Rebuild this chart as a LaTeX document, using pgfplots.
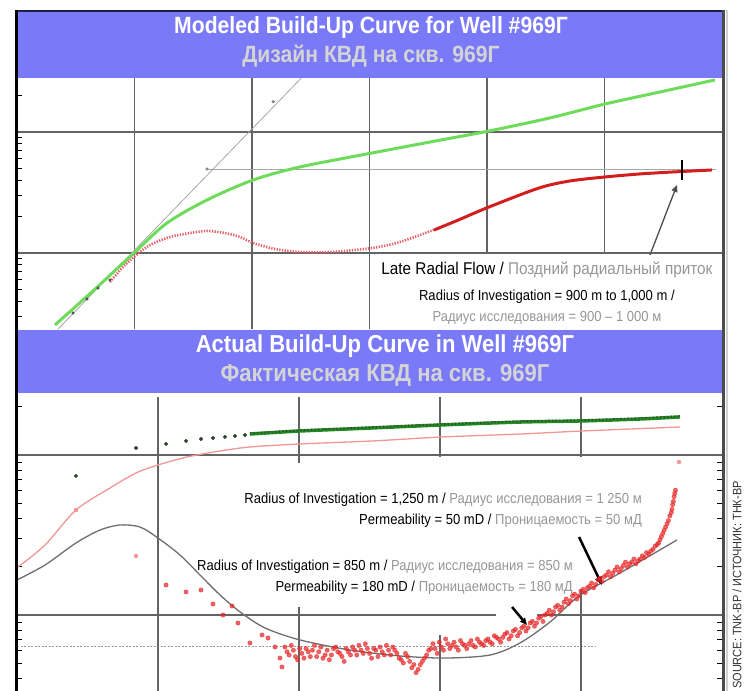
\documentclass[border=0pt]{standalone}
\usepackage{pgfplots}
\pgfplotsset{compat=1.18}
\usepackage{fontspec}
\setmainfont{Liberation Sans}[FakeStretch=0.9]
\usetikzlibrary{arrows.meta}
\definecolor{band}{RGB}{122,122,248}
\definecolor{bandedge}{RGB}{30,30,70}
\definecolor{gridc}{RGB}{100,100,100}
\definecolor{topgreen}{RGB}{110,220,90}
\definecolor{topred}{RGB}{210,30,30}
\definecolor{dotred}{RGB}{228,95,105}
\definecolor{darkgreen}{RGB}{30,140,30}
\definecolor{pinkline}{RGB}{240,150,150}
\definecolor{graycurve}{RGB}{110,110,110}
\definecolor{scatred}{RGB}{232,40,40}
\definecolor{rugray}{RGB}{150,150,150}
\definecolor{titlegray}{RGB}{212,212,212}
\newcommand{\annfont}{\fontsize{14.5bp}{17bp}\selectfont}
\begin{document}
\begin{tikzpicture}[x=1bp,y=1bp]
\useasboundingbox (0,0) rectangle (745,691);
% ================= TOP PANEL =================
\begin{axis}[at={(17bp,362bp)}, anchor=south west, scale only axis,
  width=705bp, height=251bp, xmin=0, xmax=6, ymin=-0.628, ymax=1.446,
  axis line style={draw=none}, xtick=\empty, ytick={0,1}, yticklabels={},
  minor ytick={-0.523,-0.398,-0.301,-0.222,-0.155,-0.097,-0.046,0.301,0.477,0.602,0.699,0.778,0.845,0.903,0.954,1.301},
  ytick pos=left, tick align=inside, major tick length=5bp, minor tick length=5bp,
  tick style={black, line width=1bp}, clip=false]
% grid
\draw[gridc, line width=1.7bp] (axis cs:0,1) -- (axis cs:6,1);
\draw[gridc, line width=1.7bp] (axis cs:0,0) -- (axis cs:6,0);
\draw[gridc, line width=1.7bp] (axis cs:1,-0.628) -- (axis cs:1,1.446);
\draw[gridc, line width=1.7bp] (axis cs:2,-0.628) -- (axis cs:2,1.446);
\draw[gridc, line width=1.7bp] (axis cs:3,-0.628) -- (axis cs:3,1.446);
\draw[gridc, line width=1.7bp] (axis cs:4,0) -- (axis cs:4,1.446);
\draw[gridc, line width=1.7bp] (axis cs:5,0) -- (axis cs:5,1.446);
% reference lines
\addplot[gray!70, line width=0.8bp] coordinates {(1.617,0.694) (5.95,0.694)};
\addplot[gray!70, line width=0.8bp] coordinates {(0.35,-0.628) (2.42,1.446)};
\addplot[only marks, mark=*, mark size=1.4bp, gray] coordinates {(1.617,0.694) (2.18,1.25)};
% green model
\addplot[topgreen, line width=3bp, smooth] coordinates {(0.323,-0.595) (0.664,-0.298) (1.004,0.008) (1.277,0.248) (1.617,0.438) (2.009,0.603) (2.409,0.711) (3.021,0.826) (3.515,0.917) (4.017,1.008) (4.536,1.116) (5.004,1.231) (5.47,1.33) (5.94,1.43)};
% red model (dotted then solid)
\addplot[dotred, line width=2.6bp, dash pattern=on 1.3bp off 1.4bp, smooth] coordinates {(0.791,-0.240) (0.894,-0.124) (1.004,-0.025) (1.132,0.066) (1.302,0.132) (1.472,0.165) (1.617,0.182) (1.770,0.165) (1.898,0.132) (2.009,0.083) (2.196,0.033) (2.409,0.008) (2.664,0.008) (3.021,0.041) (3.26,0.091) (3.591,0.207)};
\addplot[topred, line width=3bp, smooth] coordinates {(3.55,0.19) (3.75,0.27) (4.017,0.380) (4.443,0.537) (4.706,0.595) (5.004,0.628) (5.30,0.653) (5.574,0.669) (5.915,0.686)};
\addplot[only marks, mark=*, mark size=1.3bp, black!70] coordinates {(0.477,-0.496) (0.596,-0.380) (0.689,-0.289) (0.791,-0.223)};
% annotations
\draw[black, line width=2.5bp] (axis cs:5.66,0.769) -- (axis cs:5.66,0.603);
\draw[black!70, line width=1.3bp, -{Triangle[length=7bp,width=6bp]}] (axis cs:5.387,-0.017) -- (axis cs:5.617,0.562);
\node[font=\fontsize{17bp}{20bp}\selectfont, inner sep=0] at (axis cs:4.51,-0.14) {Late Radial Flow / \textcolor{rugray}{Поздний радиальный приток}};
\node[font=\annfont, inner sep=0] at (axis cs:4.51,-0.364) {Radius of Investigation = 900 m to 1,000 m /};
\node[font=\annfont, inner sep=0, text=rugray] at (axis cs:4.51,-0.537) {Радиус исследования = 900 – 1 000 м};
\end{axis}
% ================= BOTTOM PANEL =================
\begin{axis}[at={(17bp,0bp)}, anchor=south west, scale only axis,
  width=705bp, height=298bp, xmin=0, xmax=5, ymin=-0.475, ymax=1.3875,
  axis line style={draw=none}, xtick=\empty, ytick={0,1}, yticklabels={},
  minor ytick={-0.398,-0.301,-0.222,-0.155,-0.097,-0.046,0.301,0.477,0.602,0.699,0.778,0.845,0.903,0.954,1.301},
  tick align=inside, major tick length=5bp, minor tick length=5bp,
  tick style={black, line width=1bp}, clip=false]
% grid
\draw[gridc, line width=1.7bp] (axis cs:0,1) -- (axis cs:5,1);
\draw[gridc, line width=1.7bp] (axis cs:0,0) -- (axis cs:3.40,0);
\draw[gridc, line width=1.7bp] (axis cs:3.69,0) -- (axis cs:5,0);
\draw[gray!80, line width=1bp, dash pattern=on 2bp off 1.5bp] (axis cs:0,-0.2) -- (axis cs:4.1,-0.2);
\draw[gridc, line width=1.7bp] (axis cs:1,1.36) -- (axis cs:1,-0.475);
\draw[gridc, line width=1.7bp] (axis cs:2,1.36) -- (axis cs:2,0.95);
\draw[gridc, line width=1.7bp] (axis cs:2,0.05) -- (axis cs:2,-0.475);
\draw[gridc, line width=1.7bp] (axis cs:3,1.36) -- (axis cs:3,0.99);
\draw[gridc, line width=1.7bp] (axis cs:3,-0.125) -- (axis cs:3,-0.475);
\draw[gridc, line width=1.7bp] (axis cs:4,1.36) -- (axis cs:4,0.99);
\draw[gridc, line width=1.7bp] (axis cs:4,0.156) -- (axis cs:4,-0.475);
% gray model derivative
\addplot[graycurve, line width=1.3bp, smooth] coordinates {(0,0.219) (0.199,0.3125) (0.418,0.45) (0.589,0.531) (0.730,0.5625) (0.872,0.55) (1.0,0.481) (1.156,0.375) (1.298,0.25) (1.44,0.125) (1.582,0.019) (1.759,-0.081) (2.007,-0.156) (2.362,-0.219) (2.716,-0.256) (3.035,-0.269) (3.355,-0.25) (3.567,-0.175) (3.78,-0.044) (3.986,0.119) (4.277,0.2625) (4.681,0.469)};
% pink model pressure
\addplot[pinkline, line width=1.3bp, smooth] coordinates {(0.007,0.300) (0.199,0.4375) (0.418,0.656) (0.660,0.794) (0.844,0.8875) (1.0,0.9375) (1.206,0.9875) (1.44,1.025) (1.652,1.05) (2.007,1.069) (2.518,1.0875) (3.014,1.1125) (3.567,1.131) (4.007,1.15) (4.702,1.175)};
% measured pressure
\addplot[darkgreen, line width=3.5bp, smooth] coordinates {(1.652,1.131) (2.007,1.15) (2.518,1.169) (3.014,1.188) (3.567,1.206) (4.007,1.213) (4.418,1.225) (4.702,1.238)};
\addplot[black!75, line width=2bp, dash pattern=on 1.2bp off 2.4bp] coordinates {(1.652,1.135) (2.007,1.154) (2.518,1.173) (3.014,1.192) (3.567,1.21) (4.007,1.217) (4.418,1.229) (4.702,1.242)};
\addplot[only marks, mark=*, mark size=1.8bp, color={rgb,255:red,45;green,70;blue,45}] coordinates {(0.418,0.869) (0.844,1.044) (1.057,1.069) (1.199,1.088) (1.305,1.1) (1.39,1.106) (1.475,1.113) (1.546,1.119) (1.617,1.125)};
% measured derivative
\addplot[only marks, mark=*, mark size=2.2bp, draw=scatred, fill=scatred, opacity=0.72] coordinates {
(1.057,0.1875) (1.199,0.144) (1.305,0.156) (1.39,0.069) (1.461,0.0) (1.525,0.056) (1.567,-0.05)
(1.652,-0.175) (1.738,-0.125) (1.78,-0.144) (1.83,-0.2) (1.865,-0.269) (1.879,-0.325)
(1.90,-0.20) (1.93,-0.25) (1.96,-0.22) (1.99,-0.28) (2.02,-0.24) (2.05,-0.21) (2.08,-0.26) (2.11,-0.19)
(2.14,-0.23) (2.17,-0.27) (2.20,-0.22) (2.23,-0.25) (2.26,-0.20) (2.29,-0.24) (2.32,-0.29) (2.35,-0.23)
(2.38,-0.20) (2.41,-0.25) (2.44,-0.22) (2.47,-0.18) (2.50,-0.24) (2.53,-0.21) (2.56,-0.26) (2.59,-0.23)
(2.62,-0.19) (2.65,-0.25) (2.68,-0.22) (2.71,-0.27) (2.74,-0.30) (2.77,-0.26) (2.80,-0.33) (2.83,-0.36)
(2.86,-0.31) (2.89,-0.27) (2.92,-0.22) (2.95,-0.18) (2.98,-0.24) (3.01,-0.20) (3.04,-0.15) (3.07,-0.21)
(3.10,-0.17) (3.13,-0.22) (3.16,-0.18) (3.19,-0.21) (3.22,-0.16) (3.25,-0.20) (3.28,-0.17) (3.31,-0.19)
(3.34,-0.15) (3.37,-0.18) (3.40,-0.14) (3.43,-0.17) (3.46,-0.12) (3.49,-0.15) (3.52,-0.10) (3.55,-0.13)
(3.58,-0.08) (3.61,-0.10) (3.64,-0.05) (3.67,-0.07) (3.70,-0.02) (3.73,-0.04) (3.76,0.01) (3.79,0.00)
(3.82,0.05) (3.85,0.03) (3.88,0.08) (3.91,0.07) (3.94,0.12) (3.97,0.10) (4.00,0.15) (4.03,0.14)
(4.06,0.18) (4.09,0.17) (4.12,0.22) (4.15,0.21) (4.18,0.25) (4.21,0.24) (4.24,0.28) (4.27,0.27)
(4.30,0.31) (4.33,0.30) (4.36,0.33) (4.39,0.32) (4.42,0.35) (4.45,0.36) (4.48,0.38) (4.51,0.41)
(4.54,0.44) (4.56,0.47) (4.58,0.51) (4.60,0.55) (4.62,0.59) (4.64,0.64) (4.65,0.69) (4.66,0.74) (4.67,0.78)};
\addplot[only marks, mark=*, mark size=2.2bp, draw=scatred, fill=scatred, opacity=0.72] coordinates {
(1.915,-0.23) (1.945,-0.19) (1.975,-0.26) (2.005,-0.21) (2.035,-0.27) (2.065,-0.23) (2.095,-0.22) (2.125,-0.26)
(2.155,-0.20) (2.185,-0.25) (2.215,-0.28) (2.245,-0.21) (2.275,-0.23) (2.305,-0.26) (2.335,-0.21) (2.365,-0.25)
(2.395,-0.22) (2.425,-0.19) (2.455,-0.24) (2.485,-0.21) (2.515,-0.27) (2.545,-0.22) (2.575,-0.20) (2.605,-0.25)
(2.635,-0.22) (2.665,-0.20) (2.695,-0.24) (2.725,-0.28) (2.755,-0.24) (2.785,-0.29) (2.815,-0.31) (2.845,-0.34)
(2.875,-0.29) (2.905,-0.25) (2.935,-0.21) (2.965,-0.21) (2.995,-0.17) (3.025,-0.22) (3.055,-0.18) (3.085,-0.19)
(3.115,-0.20) (3.145,-0.16) (3.175,-0.19) (3.205,-0.18) (3.235,-0.19) (3.265,-0.15) (3.295,-0.18) (3.325,-0.16)
(3.355,-0.17) (3.385,-0.13) (3.415,-0.15) (3.445,-0.14) (3.475,-0.11) (3.505,-0.13) (3.535,-0.09) (3.565,-0.11)
(3.595,-0.07) (3.625,-0.08) (3.655,-0.04) (3.685,-0.05) (3.715,-0.01) (3.745,0.00) (3.775,0.03) (3.805,0.02)
(3.835,0.06) (3.865,0.05) (3.895,0.10) (3.925,0.09) (3.955,0.13) (3.985,0.12) (4.015,0.16) (4.045,0.17)
(4.075,0.20) (4.105,0.19) (4.135,0.23) (4.165,0.24) (4.195,0.27) (4.225,0.26) (4.255,0.30) (4.285,0.29)
(4.315,0.33) (4.345,0.32) (4.375,0.35) (4.405,0.34) (4.435,0.37) (4.465,0.39) (4.495,0.40) (4.525,0.43)
(4.55,0.45) (4.57,0.49) (4.59,0.53) (4.61,0.57) (4.63,0.62) (4.645,0.66) (4.655,0.71) (4.665,0.76)};
\addplot[only marks, mark=*, mark size=2bp, draw=pinkline, fill=pinkline] coordinates {(0.418,0.656) (0.844,0.369) (4.695,0.956)};
% arrows
\draw[black, line width=2.5bp, -{Triangle[length=8bp,width=7bp]}] (axis cs:3.986,0.4875) -- (axis cs:4.149,0.1875);
\draw[black, line width=2.5bp, -{Triangle[length=7bp,width=6bp]}] (axis cs:3.511,0.05) -- (axis cs:3.617,-0.0625);
% annotations
\node[font=\annfont, inner sep=0, anchor=east] at (axis cs:4.433,0.719) {Radius of Investigation = 1,250 m / \textcolor{rugray}{Радиус исследования = 1 250 м}};
\node[font=\annfont, inner sep=0, anchor=east] at (axis cs:4.433,0.5875) {Permeability = 50 mD / \textcolor{rugray}{Проницаемость = 50 мД}};
\node[font=\annfont, inner sep=0, anchor=east] at (axis cs:3.943,0.30) {Radius of Investigation = 850 m / \textcolor{rugray}{Радиус исследования = 850 м}};
\node[font=\annfont, inner sep=0, anchor=east] at (axis cs:3.943,0.169) {Permeability = 180 mD / \textcolor{rugray}{Проницаемость = 180 мД}};
\end{axis}
% ================= BANDS AND FRAME =================
\fill[band] (15,613) rectangle (725,680);
\draw[bandedge, line width=1.5] (15,680) -- (725,680);
\fill[band] (15,298) rectangle (725,361);
\node[font=\bfseries\fontsize{23.5bp}{27bp}\selectfont, text=white, inner sep=0] at (371,664) {Modeled Build-Up Curve for Well \#969Г};
\node[font=\bfseries\fontsize{23.5bp}{27bp}\selectfont, text=titlegray, inner sep=0] at (371,635) {Дизайн КВД на скв. 969Г};
\node[font=\bfseries\fontsize{24.5bp}{28bp}\selectfont, text=white, inner sep=0] at (385,345) {Actual Build-Up Curve in Well \#969Г};
\node[font=\bfseries\fontsize{24.5bp}{28bp}\selectfont, text=titlegray, inner sep=0] at (385,316) {Фактическая КВД на скв. 969Г};
\draw[black, line width=3] (16.5,0) -- (16.5,681);
\draw[black!70, line width=2.5] (723.5,0) -- (723.5,681);
\draw[black!18, line width=2] (727,0) -- (727,681);
\node[rotate=90, anchor=west, inner sep=0, font=\fontsize{12.2bp}{14bp}\selectfont, text=black!80] at (737,2) {SOURCE: TNK-BP / ИСТОЧНИК: ТНК-ВР};
\end{tikzpicture}
\end{document}
